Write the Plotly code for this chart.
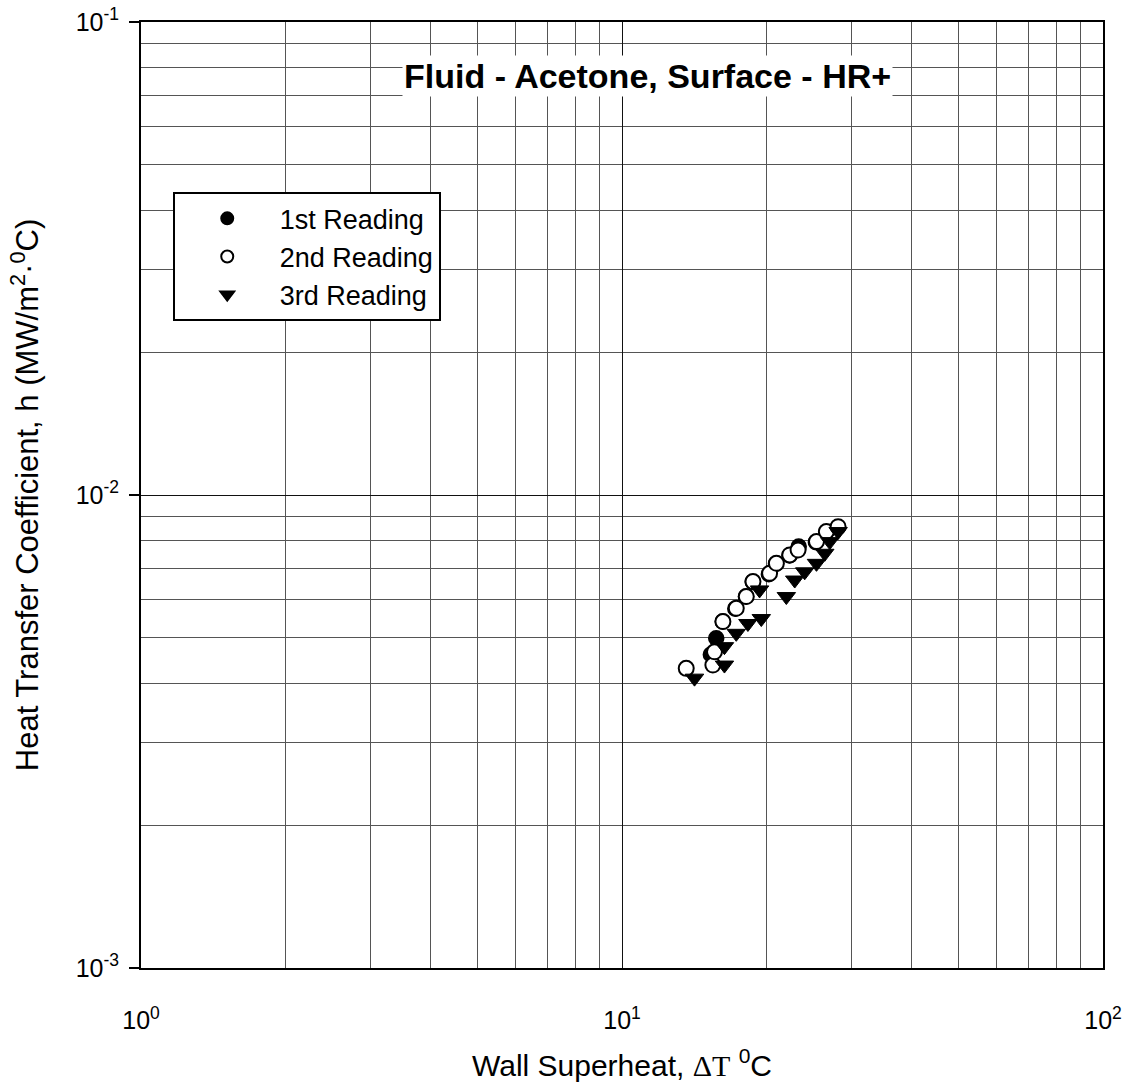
import plotly.graph_objects as go

# Data
r1_x = [15.3, 15.7, 16.2, 17.2, 18.1, 18.7, 20.2, 20.9, 22.3, 23.3, 25.3, 26.6, 28.1]
r1_y = [0.0046, 0.00498, 0.0054, 0.00575, 0.0061, 0.00655, 0.0068, 0.00715, 0.00745, 0.00778, 0.00795, 0.00835, 0.00855]

r2_x = [13.6, 15.45, 15.57, 16.21, 17.28, 18.13, 18.72, 20.27, 20.94, 22.32, 23.23, 25.37, 26.6, 28.14]
r2_y = [0.00430, 0.00437, 0.00466, 0.00540, 0.00576, 0.00610, 0.00656, 0.00683, 0.00717, 0.00747, 0.00765, 0.00797, 0.00837, 0.00857]

r3_x = [14.15, 16.33, 16.33, 17.28, 18.27, 19.48, 19.32, 21.96, 22.86, 23.98, 25.37, 26.4, 27.03, 28.14]
r3_y = [0.00410, 0.00437, 0.00478, 0.00510, 0.00535, 0.00548, 0.00630, 0.00610, 0.00661, 0.00688, 0.00717, 0.00753, 0.00797, 0.00837]

x_tickvals = [1, 10, 100]
x_ticktext = ["10<sup>0</sup>", "10<sup>1</sup>", "10<sup>2</sup>"]
y_tickvals = [0.001, 0.01, 0.1]
y_ticktext = ["10<sup>-3</sup>", "10<sup>-2</sup>", "10<sup>-1</sup>"]
x_minor = [2, 3, 4, 5, 6, 7, 8, 9, 20, 30, 40, 50, 60, 70, 80, 90]
y_minor = [0.002, 0.003, 0.004, 0.005, 0.006, 0.007, 0.008, 0.009,
           0.02, 0.03, 0.04, 0.05, 0.06, 0.07, 0.08, 0.09]

FONT = "Liberation Sans, Arial, sans-serif"

fig = go.Figure()
fig.add_trace(go.Scatter(
    x=r1_x, y=r1_y, mode="markers", name="1st Reading",
    marker=dict(symbol="circle", size=15, color="black", line=dict(color="black", width=1.5)),
))
fig.add_trace(go.Scatter(
    x=r2_x, y=r2_y, mode="markers", name="2nd Reading",
    marker=dict(symbol="circle", size=15, color="white", line=dict(color="black", width=2)),
))
fig.add_trace(go.Scatter(
    x=r3_x, y=r3_y, mode="markers", name="3rd Reading",
    marker=dict(symbol="triangle-down", size=16, color="black", line=dict(color="black", width=1)),
))

axis_common = dict(
    type="log",
    showgrid=True, gridcolor="#111111", gridwidth=1.3,
    showline=True, linecolor="black", linewidth=2, mirror=True,
    zeroline=False,
    tickfont=dict(family=FONT, size=25, color="black"),
)

fig.update_xaxes(
    **axis_common,
    range=[0, 2],
    ticks="",
    tickmode="array", tickvals=x_tickvals, ticktext=x_ticktext,
    ticklabelstandoff=29,
    minor=dict(tickmode="array", tickvals=x_minor, showgrid=True,
               gridcolor="#555555", gridwidth=1, ticks=""),
    title=dict(text="Wall Superheat, <span style=\"font-family:Liberation Serif, Times New Roman, serif\">\u0394T</span> <sup>0</sup>C",
               font=dict(family=FONT, size=30, color="black"), standoff=22),
)
fig.update_yaxes(
    **axis_common,
    automargin=False,
    range=[-3, -1],
    ticks="outside", ticklen=10, tickcolor="black", tickwidth=1.5,
    tickmode="array", tickvals=y_tickvals, ticktext=y_ticktext,
    ticklabelstandoff=5,
    minor=dict(tickmode="array", tickvals=y_minor, showgrid=True,
               gridcolor="#555555", gridwidth=1, ticks=""),
    title=dict(text="Heat Transfer Coefficient, h (MW/m<sup>2</sup>\u00b7<sup>0</sup>C)",
               font=dict(family=FONT, size=31, color="black"), standoff=28),
)

fig.add_annotation(
    x=0.527, y=0.943, xref="paper", yref="paper",
    xanchor="center", yanchor="middle",
    text="<b>Fluid - Acetone, Surface - HR+</b>",
    showarrow=False, bgcolor="white",
    font=dict(family=FONT, size=34, color="black"),
)

fig.update_layout(
    width=1134, height=1088,
    margin=dict(l=141, r=31, t=22, b=120),
    paper_bgcolor="white", plot_bgcolor="white",
    showlegend=True,
    legend=dict(
        x=0.033, y=0.82, xanchor="left", yanchor="top",
        bgcolor="white", bordercolor="black", borderwidth=2,
        font=dict(family=FONT, size=27, color="black"),
        itemsizing="constant", itemwidth=95, tracegroupgap=0,
    ),
    font=dict(family=FONT, color="black"),
)

fig.write_html("out.html")
